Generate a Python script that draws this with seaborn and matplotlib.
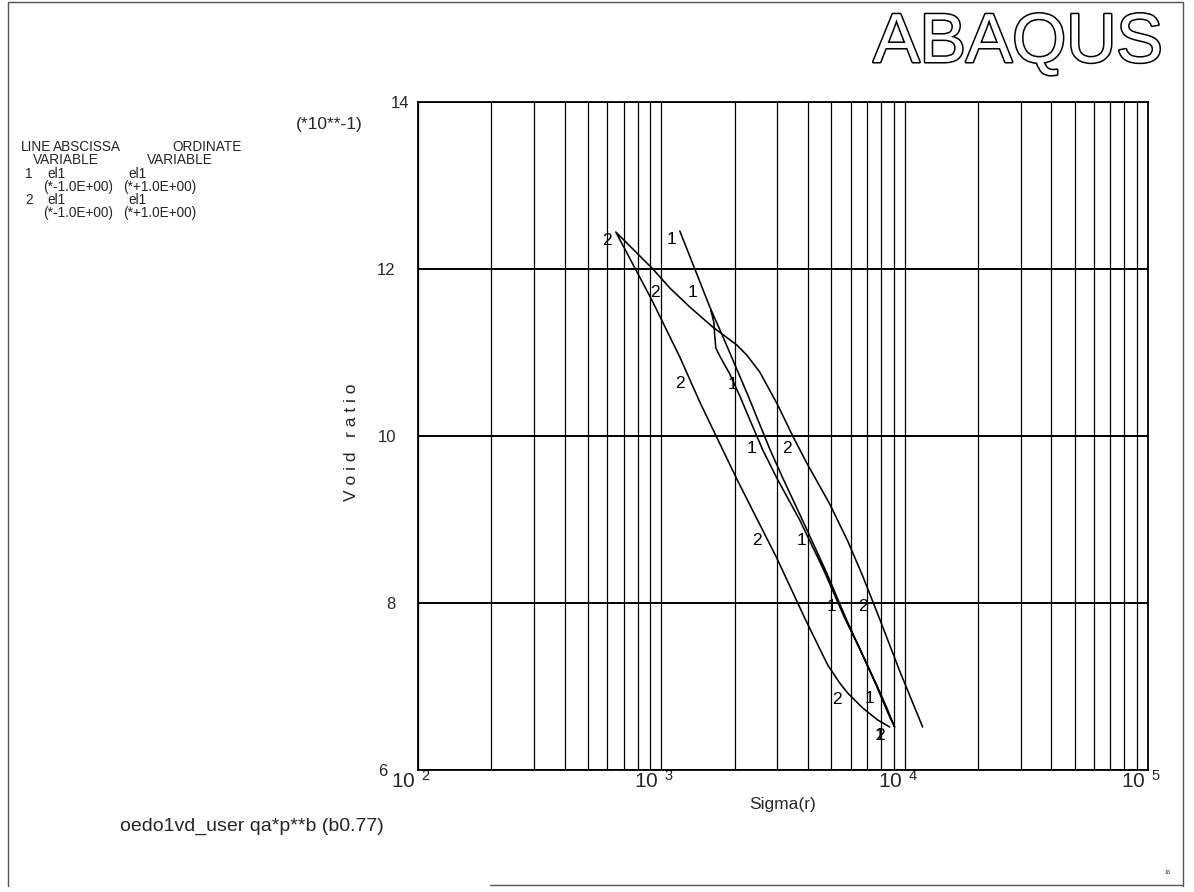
import matplotlib
matplotlib.use("Agg")
import matplotlib.pyplot as plt
import matplotlib.patheffects as pe
from matplotlib.lines import Line2D
from matplotlib.transforms import ScaledTranslation
from matplotlib.ticker import FixedLocator, FixedFormatter, LogLocator, NullFormatter
import pandas as pd
import seaborn as sns

# ---- data -------------------------------------------------------------
# Line 1 (el1): radial stress and void ratio along the path
sigma_1 = [1191, 1373, 1582, 1823, 2266, 2790, 3155, 3884, 4783, 5777, 6722, 7674, 8518, 9096,
           8680, 7602, 6658, 5669, 4649, 3705, 2981, 2612, 2331, 2101, 1911, 1756, 1674, 1658, 1643, 1597]
void_1 = [1.2455, 1.2000, 1.1545, 1.1138, 1.0491, 0.9844, 0.9497, 0.8934, 0.8359, 0.7796, 0.7377, 0.7018, 0.6719, 0.6515,
          0.6635, 0.7030, 0.7401, 0.7820, 0.8395, 0.8994, 0.9497, 0.9832, 1.0168, 1.0479, 1.0743, 1.0934, 1.1054, 1.1198, 1.1365, 1.1509]

# Line 2 (el1)
sigma_2 = [8680, 7747, 6722, 5832, 5408, 4828, 3884, 2981, 2042, 1439, 1191, 914, 650,
           778, 923, 1084, 1309, 1627, 2042, 2244, 2538, 3009, 3467, 3958, 4920, 5832, 6722, 7894, 9539, 11855]
void_2 = [0.6515, 0.6599, 0.6743, 0.6922, 0.7042, 0.7257, 0.7820, 0.8539, 0.9485, 1.0407, 1.0946, 1.1629, 1.2443,
          1.2216, 1.2000, 1.1772, 1.1545, 1.1305, 1.1090, 1.0970, 1.0766, 1.0371, 1.0000, 0.9677, 0.9186, 0.8743, 0.8323, 0.7808, 0.7186, 0.6515]

# curve identification numbers written along each line
mark1_sigma = [1104, 1347, 1966, 2353, 3776, 5014, 7184, 7894]
mark1_void = [1.2359, 1.1713, 1.0611, 0.9856, 0.8754, 0.7964, 0.6862, 0.6419]
mark2_sigma = [597, 940, 1191, 3276, 2468, 6722, 5257, 7894]
mark2_void = [1.2347, 1.1713, 1.0623, 0.9856, 0.8743, 0.7964, 0.6850, 0.6419]

x_ticks = [1e2, 1e3, 1e4, 1e5]
x_tick_labels = [r"$10^{\ \,2}$", r"$10^{\ \,3}$", r"$10^{\ \,4}$", r"$10^{\ \,5}$"]
y_ticks = [0.6, 0.8, 1.0, 1.2, 1.4]
y_tick_labels = ["6", "8", "10", "12", "14"]

legend_rows = [
    [("LINE", 21), ("ABSCISSA", 53), ("ORDINATE", 172)],
    [("VARIABLE", 33), ("VARIABLE", 147)],
    [("1", 25), ("el1", 47), ("el1", 128)],
    [("(*-1.0E+00)", 43), ("(*+1.0E+00)", 123)],
    [("2", 25), ("el1", 47), ("el1", 128)],
    [("(*-1.0E+00)", 43), ("(*+1.0E+00)", 123)],
]
legend_y = [147, 160, 174, 187, 200, 213]

# ---- styling ----------------------------------------------------------
sns.set_style("white")
plt.rcParams["font.family"] = ["Liberation Sans", "DejaVu Sans"]
plt.rcParams["mathtext.default"] = "regular"

W, H = 1194, 892
fig = plt.figure(figsize=(W / 100, H / 100), dpi=100)
fig.patch.set_facecolor("white")


def fx(x):
    return x / W


def fy(y):
    return 1 - y / H


left, right, top, bottom = 418, 1148, 102, 770
ax = fig.add_axes([fx(left), fy(bottom), (right - left) / W, (bottom - top) / H])
ax.set_xscale("log")

df = pd.concat([
    pd.DataFrame({"sigma": sigma_1, "void": void_1, "line": 1}),
    pd.DataFrame({"sigma": sigma_2, "void": void_2, "line": 2}),
], ignore_index=True)

sns.lineplot(data=df, x="sigma", y="void", units="line", estimator=None, sort=False,
             color="black", linewidth=1.15, ax=ax, legend=False)

for s, v in zip(mark1_sigma, mark1_void):
    ax.text(s, v, "1", ha="center", va="center", fontsize=12.5, color="black")
for s, v in zip(mark2_sigma, mark2_void):
    ax.text(s, v, "2", ha="center", va="center", fontsize=12.5, color="black")

ax.set_xlim(1e2, 1e5)
ax.set_ylim(0.6, 1.4)

ax.xaxis.set_major_locator(FixedLocator(x_ticks))
ax.xaxis.set_major_formatter(FixedFormatter(x_tick_labels))
ax.xaxis.set_minor_locator(LogLocator(base=10, subs=range(2, 10), numticks=20))
ax.xaxis.set_minor_formatter(NullFormatter())
ax.yaxis.set_major_locator(FixedLocator(y_ticks))
ax.yaxis.set_major_formatter(FixedFormatter(y_tick_labels))

ax.tick_params(axis="x", which="both", length=0, labelsize=15, pad=0)
ax.tick_params(axis="y", which="both", length=0, labelsize=12, pad=16)
ytk = ax.yaxis.get_major_ticks(len(y_ticks))
ytk[0].set_pad(22)
ytk[-1].set_pad(6)
# decade labels sit with the mantissa ending at the grid line
shift_left = ScaledTranslation(-7 / 100, 0, fig.dpi_scale_trans)
for tk in ax.xaxis.get_major_ticks(len(x_ticks)):
    tk.label1.set_transform(tk.label1.get_transform() + shift_left)

ax.grid(True, which="both", axis="x", color="black", linewidth=0.9)
ax.grid(True, which="major", axis="y", color="black", linewidth=1.4)
for sp in ax.spines.values():
    sp.set_color("black")
    sp.set_linewidth(1.3)

ax.set_xlabel("Sigma(r)", fontsize=12.5)
ax.xaxis.set_label_coords(0.5, -(804 - bottom) / (bottom - top))
ax.xaxis.label.set_va("center")
ax.set_ylabel("V o i d   r a t i o", fontsize=12.5)
ax.yaxis.set_label_coords((352 - left) / (right - left), (bottom - 442) / (bottom - top))
ax.yaxis.label.set_va("center")

fig.text(fx(296), fy(124), "(*10**-1)", fontsize=12.5, va="center", ha="left")

# legend block
for row, yy in zip(legend_rows, legend_y):
    for txt, xx in row:
        fig.text(fx(xx), fy(yy), txt, fontsize=9.8, va="center", ha="left")

# caption
fig.text(fx(120), fy(826), "oedo1vd_user qa*p**b (b0.77)", fontsize=14, va="center", ha="left")

# outlined logo
logo = fig.text(fx(1163), fy(44), "ABAQUS", fontsize=50, ha="right", va="center",
                color="white")
logo.set_path_effects([pe.Stroke(linewidth=2.2, foreground="black"), pe.Normal()])

# page frame
frame_kw = dict(color="#555555", linewidth=1.0, transform=fig.transFigure)
fig.add_artist(Line2D([fx(8), fx(8)], [fy(2), fy(886)], **frame_kw))
fig.add_artist(Line2D([fx(8), fx(1183)], [fy(2), fy(2)], **frame_kw))
fig.add_artist(Line2D([fx(1183), fx(1183)], [fy(2), fy(886)], **frame_kw))
fig.add_artist(Line2D([fx(490), fx(1183)], [fy(885), fy(885)], **frame_kw))
fig.text(fx(1168), fy(872), "16", fontsize=4, ha="center", va="center")

fig.savefig("out.png", dpi=100, facecolor="white")
